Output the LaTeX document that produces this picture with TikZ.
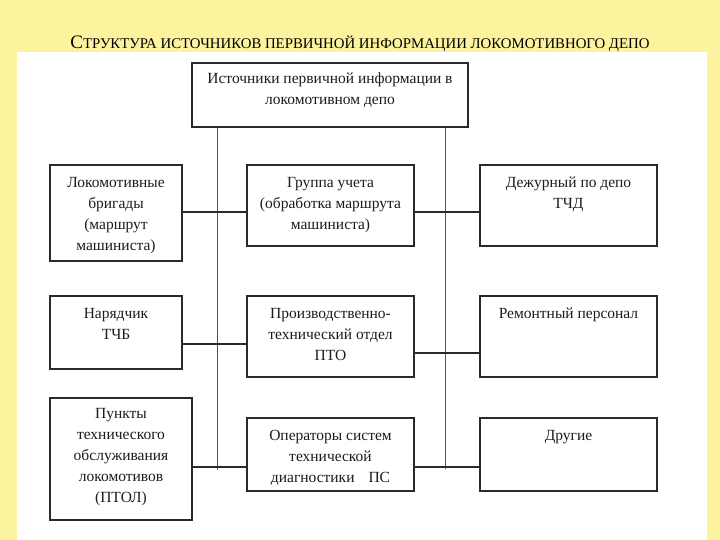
\documentclass[tikz,border=0pt]{standalone}
\usepackage{fontspec}
\setmainfont{Liberation Serif}
\definecolor{bgyellow}{HTML}{FDF29E}
\definecolor{ink}{HTML}{1C1C1C}
\definecolor{frame}{HTML}{2A2A2A}
\definecolor{thinline}{HTML}{555555}
\newcommand{\boxlines}[1]{\begin{tabular}[t]{@{}c@{}}#1\end{tabular}}
\begin{document}
\begin{tikzpicture}[x=1pt,y=-1pt,
  box/.style={draw=frame, line width=1.4pt, fill=white, inner sep=0pt, rectangle},
  txt/.style={anchor=base, inner sep=0pt, text=ink, font=\fontsize{15.5}{21}\selectfont},
  hline/.style={draw=frame, line width=1.3pt},
  vline/.style={draw=thinline, line width=0.9pt}]
\useasboundingbox (0,0) rectangle (720,540);
\fill[bgyellow] (0,0) rectangle (720,540);
\fill[white] (17,52) rectangle (707,540);
% title
\node[anchor=base, inner sep=0pt, text=black] (title) at (360,49)
  {{\fontsize{19}{19}\selectfont С}{\fontsize{14.8}{15}\selectfont ТРУКТУРА ИСТОЧНИКОВ ПЕРВИЧНОЙ ИНФОРМАЦИИ ЛОКОМОТИВНОГО ДЕПО}};
% boxes
\node[box, minimum width=276pt, minimum height=64pt] (top) at (330,95) {};
\node[box, minimum width=132pt, minimum height=96pt] (b11) at (116,213) {};
\node[box, minimum width=167pt, minimum height=81pt] (b12) at (330.5,205.5) {};
\node[box, minimum width=177pt, minimum height=81pt] (b13) at (568.5,205.5) {};
\node[box, minimum width=132pt, minimum height=73pt] (b21) at (116,332.5) {};
\node[box, minimum width=167pt, minimum height=81pt] (b22) at (330.5,336.5) {};
\node[box, minimum width=177pt, minimum height=81pt] (b23) at (568.5,336.5) {};
\node[box, minimum width=142pt, minimum height=122pt] (b31) at (121,459) {};
\node[box, minimum width=167pt, minimum height=73pt] (b32) at (330.5,454.5) {};
\node[box, minimum width=177pt, minimum height=73pt] (b33) at (568.5,454.5) {};
% texts
\node[txt] (ttop) at ([yshift=-21pt]top.north) {\boxlines{Источники первичной информации в\\локомотивном депо}};
\node[txt] (t11) at ([yshift=-23pt]b11.north) {\boxlines{Локомотивные\\бригады\\(маршрут\\машиниста)}};
\node[txt] (t12) at ([yshift=-23pt]b12.north) {\boxlines{Группа учета\\(обработка маршрута\\машиниста)}};
\node[txt] (t13) at ([yshift=-23pt]b13.north) {\boxlines{Дежурный по депо\\ТЧД}};
\node[txt] (t21) at ([yshift=-23pt]b21.north) {\boxlines{Нарядчик\\ТЧБ}};
\node[txt] (t22) at ([yshift=-23pt]b22.north) {\boxlines{Производственно-\\технический отдел\\ПТО}};
\node[txt] (t23) at ([yshift=-23pt]b23.north) {\boxlines{Ремонтный персонал}};
\node[txt] (t31) at ([yshift=-21pt]b31.north) {\boxlines{Пункты\\технического\\обслуживания\\локомотивов\\(ПТОЛ)}};
\node[txt] (t32) at ([yshift=-23pt]b32.north) {\boxlines{Операторы систем\\технической\\диагностики\hspace{0.9em}ПС}};
\node[txt] (t33) at ([yshift=-23pt]b33.north) {\boxlines{Другие}};
% trunk lines
\coordinate (lend) at (217,470);
\coordinate (rend) at (445,469);
\draw[vline] (top.south -| lend) -- (lend);
\draw[vline] (top.south -| rend) -- (rend);
% row connectors
\coordinate (y1) at (0,212);
\coordinate (y2l) at (0,344);
\coordinate (y2r) at (0,353);
\coordinate (y3) at (0,467);
\draw[hline] (b11.east |- y1) -- (b12.west |- y1);
\draw[hline] (b12.east |- y1) -- (b13.west |- y1);
\draw[hline] (b21.east |- y2l) -- (b22.west |- y2l);
\draw[hline] (b22.east |- y2r) -- (b23.west |- y2r);
\draw[hline] (b31.east |- y3) -- (b32.west |- y3);
\draw[hline] (b32.east |- y3) -- (b33.west |- y3);
\end{tikzpicture}
\end{document}
